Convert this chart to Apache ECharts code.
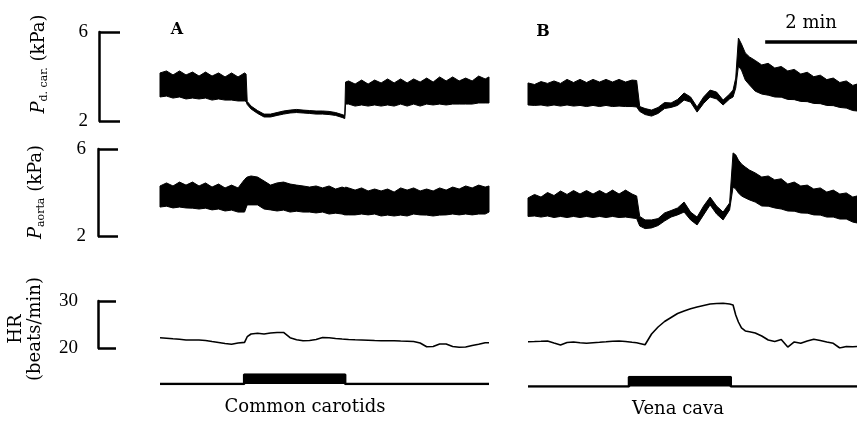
<!DOCTYPE html>
<html>
<head>
<meta charset="utf-8">
<script src="https://cdn.jsdelivr.net/npm/echarts@6/dist/echarts.min.js"></script>
<style>
html,body{margin:0;padding:0;background:#fff;}
#chart{width:857px;height:423px;}
</style>
</head>
<body>
<div id="chart"></div>
<script>
// ---------- DATA (time in seconds, pressures in kPa, heart rate in beats/min) ----------
const T_A = [0,8.5,17,25.5,34,42.5,51,59.5,68,76.5,85,93.5,102,110.5,112.5,114,119,127.5,136,144.5,153,161.5,170,178.5,187,195.5,204,212.5,221,229.5,238,241.5,242.5,246.5,255,263.5,272,280.5,289,297.5,306,314.5,323,331.5,340,348.5,357,365.5,374,382.5,391,399.5,408,416.5,425,430];
const CAR_A_HI = [4.16,4.25,4.07,4.25,4.07,4.20,4.02,4.20,4.02,4.16,3.98,4.16,3.98,4.16,4.11,2.88,2.67,2.47,2.31,2.31,2.38,2.45,2.49,2.52,2.49,2.47,2.45,2.45,2.43,2.38,2.29,2.25,3.75,3.80,3.66,3.84,3.66,3.84,3.71,3.89,3.71,3.89,3.71,3.89,3.75,3.93,3.75,3.98,3.80,3.98,3.80,3.93,3.80,4.02,3.89,3.98];
const CAR_A_LO = [3.08,3.12,3.03,3.08,2.99,3.03,2.99,3.03,2.94,2.99,2.94,2.94,2.90,2.90,2.88,2.74,2.54,2.34,2.18,2.18,2.25,2.31,2.36,2.38,2.36,2.34,2.31,2.31,2.29,2.25,2.16,2.11,2.76,2.76,2.67,2.72,2.67,2.72,2.67,2.72,2.67,2.76,2.67,2.76,2.67,2.76,2.72,2.76,2.72,2.76,2.76,2.76,2.76,2.81,2.81,2.81];
const AOR_A_HI = [4.30,4.44,4.30,4.48,4.34,4.48,4.30,4.44,4.25,4.39,4.21,4.34,4.21,4.60,4.67,4.71,4.76,4.71,4.53,4.34,4.44,4.48,4.39,4.34,4.30,4.25,4.30,4.21,4.30,4.16,4.25,4.21,4.25,4.21,4.11,4.21,4.07,4.16,4.07,4.16,4.02,4.21,4.11,4.21,4.07,4.16,4.07,4.21,4.11,4.25,4.16,4.30,4.21,4.34,4.25,4.30];
const AOR_A_LO = [3.33,3.37,3.29,3.33,3.29,3.28,3.24,3.28,3.20,3.24,3.15,3.19,3.10,3.10,3.29,3.43,3.43,3.43,3.24,3.20,3.15,3.19,3.10,3.14,3.10,3.10,3.06,3.10,3.01,3.05,3.01,2.97,2.97,2.97,2.97,3.01,2.97,3.01,2.92,2.96,2.92,2.96,2.92,3.01,2.97,2.96,2.92,2.96,2.97,3.01,2.97,3.01,2.97,3.01,3.01,3.10];
const HR_A = [22.17,22.09,21.96,21.85,21.70,21.70,21.70,21.60,21.38,21.17,20.96,20.79,21.06,21.20,21.55,22.40,22.98,23.13,22.98,23.19,23.30,23.30,22.20,21.77,21.55,21.60,21.81,22.23,22.17,22.02,21.91,21.87,21.85,21.81,21.74,21.70,21.66,21.60,21.55,21.55,21.55,21.49,21.45,21.38,21.06,20.28,20.32,20.85,20.85,20.32,20.17,20.21,20.53,20.81,21.13,21.13];

const T_B = [0,8.5,17,25.5,34,42.5,51,59.5,68,76.5,85,93.5,102,110.5,119,127.5,136,142,146,153,161.5,170,178.5,187,195.5,204,212.5,221,229.5,238,246.5,255,263.5,268,271.5,275,279,284,289.5,297,305.5,314,322.5,331,339.5,348,356.5,365,373.5,382,390.5,399,407.5,416,424.5,430];
const CAR_B_HI = [3.71,3.64,3.77,3.69,3.80,3.69,3.87,3.73,3.87,3.73,3.87,3.75,3.87,3.75,3.87,3.75,3.84,3.82,2.65,2.56,2.49,2.61,2.83,2.81,2.97,3.26,3.08,2.63,3.08,3.39,3.30,2.94,3.21,3.39,3.93,5.73,5.46,5.06,4.88,4.72,4.52,4.59,4.38,4.45,4.25,4.32,4.11,4.19,3.99,4.06,3.86,3.93,3.73,3.80,3.60,3.66];
const CAR_B_LO = [2.72,2.70,2.72,2.67,2.72,2.67,2.72,2.67,2.70,2.65,2.70,2.65,2.70,2.65,2.67,2.65,2.65,2.63,2.43,2.29,2.22,2.34,2.56,2.61,2.70,2.94,2.85,2.40,2.79,3.08,2.99,2.72,2.99,3.08,3.48,4.47,4.29,3.84,3.62,3.34,3.21,3.16,3.08,3.07,2.97,2.96,2.88,2.87,2.79,2.78,2.70,2.69,2.61,2.58,2.47,2.45];
const AOR_B_HI = [3.75,3.91,3.79,4.00,3.86,4.07,3.91,4.09,3.93,4.09,3.93,4.09,3.93,4.11,3.93,4.11,3.93,3.84,2.90,2.74,2.74,2.80,3.06,3.17,3.29,3.56,3.10,2.87,3.38,3.79,3.38,3.10,3.52,5.82,5.73,5.49,5.31,5.17,5.03,4.90,4.71,4.76,4.58,4.63,4.39,4.48,4.30,4.34,4.16,4.21,4.02,4.11,3.93,3.98,3.79,3.84];
const AOR_B_LO = [2.90,2.92,2.87,2.92,2.85,2.90,2.85,2.90,2.85,2.90,2.85,2.90,2.85,2.90,2.85,2.87,2.83,2.80,2.46,2.34,2.37,2.48,2.69,2.87,2.97,3.10,2.74,2.51,2.97,3.43,3.01,2.74,3.20,4.25,4.16,3.98,3.84,3.75,3.66,3.56,3.38,3.37,3.29,3.24,3.15,3.14,3.06,3.05,2.97,2.96,2.87,2.87,2.78,2.78,2.64,2.60];
const HR_B = [21.34,21.38,21.43,21.49,21.06,20.64,21.17,21.28,21.13,21.00,21.11,21.21,21.32,21.45,21.49,21.38,21.21,21.11,20.96,20.70,22.98,24.47,25.64,26.49,27.34,27.87,28.36,28.72,29.04,29.36,29.47,29.51,29.36,29.15,27.02,25.53,24.26,23.62,23.47,23.19,22.55,21.70,21.38,21.81,20.21,21.28,21.00,21.49,21.85,21.60,21.28,21.00,20.00,20.32,20.28,20.32];

// stimulus (occlusion) on/off times, s
const STIM_A = [110, 242];
const STIM_B = [132, 265];
// time scale bar: 2 min
const SCALE_BAR = [310, 430];
// axis tick labels
const CAR_TICKS = [2, 6];
const AOR_TICKS = [2, 6];
const HR_TICKS = [20, 30];
const T_MAX = 430;

// ---------- CHART ----------
const FONT = '"DejaVu Serif", "Liberation Serif", serif';
const TICK_FONT = '"Liberation Serif", "DejaVu Serif", serif';
const chart = echarts.init(document.getElementById('chart'), null, {renderer: 'canvas'});

const grids = [
  {left: 160, top: 32, width: 329, height: 89},    // 0 Pcar A
  {left: 528, top: 32, width: 329, height: 89},    // 1 Pcar B
  {left: 160, top: 149, width: 329, height: 87},   // 2 Paorta A
  {left: 528, top: 149, width: 329, height: 87},   // 3 Paorta B
  {left: 160, top: 301, width: 329, height: 47},   // 4 HR A
  {left: 528, top: 301, width: 329, height: 47},   // 5 HR B
  {left: 160, top: 374.5, width: 329, height: 9.5},// 6 stim A
  {left: 528, top: 377, width: 329, height: 9.5},  // 7 stim B
  {left: 528, top: 36, width: 329, height: 12}     // 8 scale bar
];
const xAxes = grids.map((g, i) => ({type: 'value', gridIndex: i, min: 0, max: T_MAX, show: false}));

function bracketAxis(i, min, max, ticks, offset, margin, tickLen) {
  return {
    type: 'value', gridIndex: i, min: min, max: max, offset: offset,
    axisLine: {show: true, onZero: false, lineStyle: {color: '#000', width: 2.5}},
    axisTick: {show: true, inside: true, length: tickLen, customValues: ticks, lineStyle: {color: '#000', width: 2.5}},
    axisLabel: {show: true, customValues: ticks, color: '#000', fontSize: 19, fontFamily: TICK_FONT, margin: margin},
    splitLine: {show: false}
  };
}
const yAxes = [
  bracketAxis(0, 2, 6, CAR_TICKS, 61, 11, 21),
  {type: 'value', gridIndex: 1, min: 2, max: 6, show: false},
  bracketAxis(2, 2, 6, AOR_TICKS, 62, 12, 20),
  {type: 'value', gridIndex: 3, min: 2, max: 6, show: false},
  bracketAxis(4, 20, 30, HR_TICKS, 62, 20, 18),
  {type: 'value', gridIndex: 5, min: 20, max: 30, show: false},
  {type: 'value', gridIndex: 6, min: 0, max: 1, show: false},
  {type: 'value', gridIndex: 7, min: 0, max: 1, show: false},
  {type: 'value', gridIndex: 8, min: 0, max: 1, show: false}
];

// pulsatile pressure band: filled region between diastolic (lo) and systolic (hi) edges
function band(id, gi, t, hi, lo) {
  return {
    name: id, type: 'custom', xAxisIndex: gi, yAxisIndex: gi,
    data: t.map((x, k) => [x, lo[k], hi[k]]),
    encode: {x: 0, y: [1, 2]},
    renderItem: function (params, api) {
      if (params.dataIndex !== 0) return null;
      const top = t.map((x, k) => api.coord([x, hi[k]]));
      const bot = t.map((x, k) => api.coord([x, lo[k]])).reverse();
      return {type: 'polygon', shape: {points: top.concat(bot)},
        style: {fill: '#000', stroke: '#000', lineWidth: 1, lineJoin: 'round'}};
    }
  };
}
function trace(id, gi, t, v) {
  return {name: id, type: 'line', xAxisIndex: gi, yAxisIndex: gi,
    data: t.map((x, k) => [x, v[k]]), symbol: 'none',
    lineStyle: {color: '#000', width: 1.6}};
}
function stim(id, gi, onOff) {
  return {name: id, type: 'line', xAxisIndex: gi, yAxisIndex: gi,
    data: [[0, 0], [onOff[0], 0], [onOff[0], 1], [onOff[1], 1], [onOff[1], 0], [T_MAX, 0]],
    symbol: 'none', lineStyle: {color: '#000', width: 2.5},
    areaStyle: {color: '#000', opacity: 1, origin: 'start'}};
}

const series = [
  band('Pd.car A', 0, T_A, CAR_A_HI, CAR_A_LO),
  band('Pd.car B', 1, T_B, CAR_B_HI, CAR_B_LO),
  band('Paorta A', 2, T_A, AOR_A_HI, AOR_A_LO),
  band('Paorta B', 3, T_B, AOR_B_HI, AOR_B_LO),
  trace('HR A', 4, T_A, HR_A), trace('HR B', 5, T_B, HR_B),
  stim('Common carotids', 6, STIM_A), stim('Vena cava', 7, STIM_B),
  {name: '2 min', type: 'line', xAxisIndex: 8, yAxisIndex: 8, symbol: 'none',
   data: [[SCALE_BAR[0], 0.5], [SCALE_BAR[1], 0.5]], lineStyle: {color: '#000', width: 3.5}}
];

const txt = (x, y, text, extra) => Object.assign({
  type: 'text', x: x, y: y, silent: true,
  style: Object.assign({text: text, fill: '#000', fontSize: 18, fontFamily: FONT,
    align: 'center', verticalAlign: 'middle'}, (extra && extra.style) || {})
}, extra && extra.rotation !== undefined ? {rotation: extra.rotation} : {});

const richSub = {
  p: {fontSize: 18, fontFamily: FONT, fontStyle: 'italic', lineHeight: 20, verticalAlign: 'bottom', padding: [0, 0, 2, 0]},
  s: {fontSize: 11, fontFamily: FONT, lineHeight: 11, verticalAlign: 'bottom'},
  n: {fontSize: 18, fontFamily: FONT, lineHeight: 20, verticalAlign: 'bottom', padding: [0, 0, 2, 0]}
};

const graphic = [
  txt(177, 30, 'A', {style: {fontWeight: 'bold', fontSize: 16}}),
  txt(543, 32, 'B', {style: {fontWeight: 'bold', fontSize: 16}}),
  txt(811, 23, '2 min'),
  txt(305, 407, 'Common carotids'),
  txt(678, 409, 'Vena cava'),
  txt(40, 64, '{p|P}{s|d. car.}{n| (kPa)}', {rotation: Math.PI / 2, style: {rich: richSub}}),
  txt(37, 192, '{p|P}{s|aorta}{n| (kPa)}', {rotation: Math.PI / 2, style: {rich: richSub}}),
  txt(26, 329, 'HR\n(beats/min)', {rotation: Math.PI / 2, style: {lineHeight: 19}})
];

chart.setOption({
  animation: false,
  backgroundColor: '#fff',
  grid: grids,
  xAxis: xAxes,
  yAxis: yAxes,
  series: series,
  graphic: graphic
});
</script>
</body>
</html>
